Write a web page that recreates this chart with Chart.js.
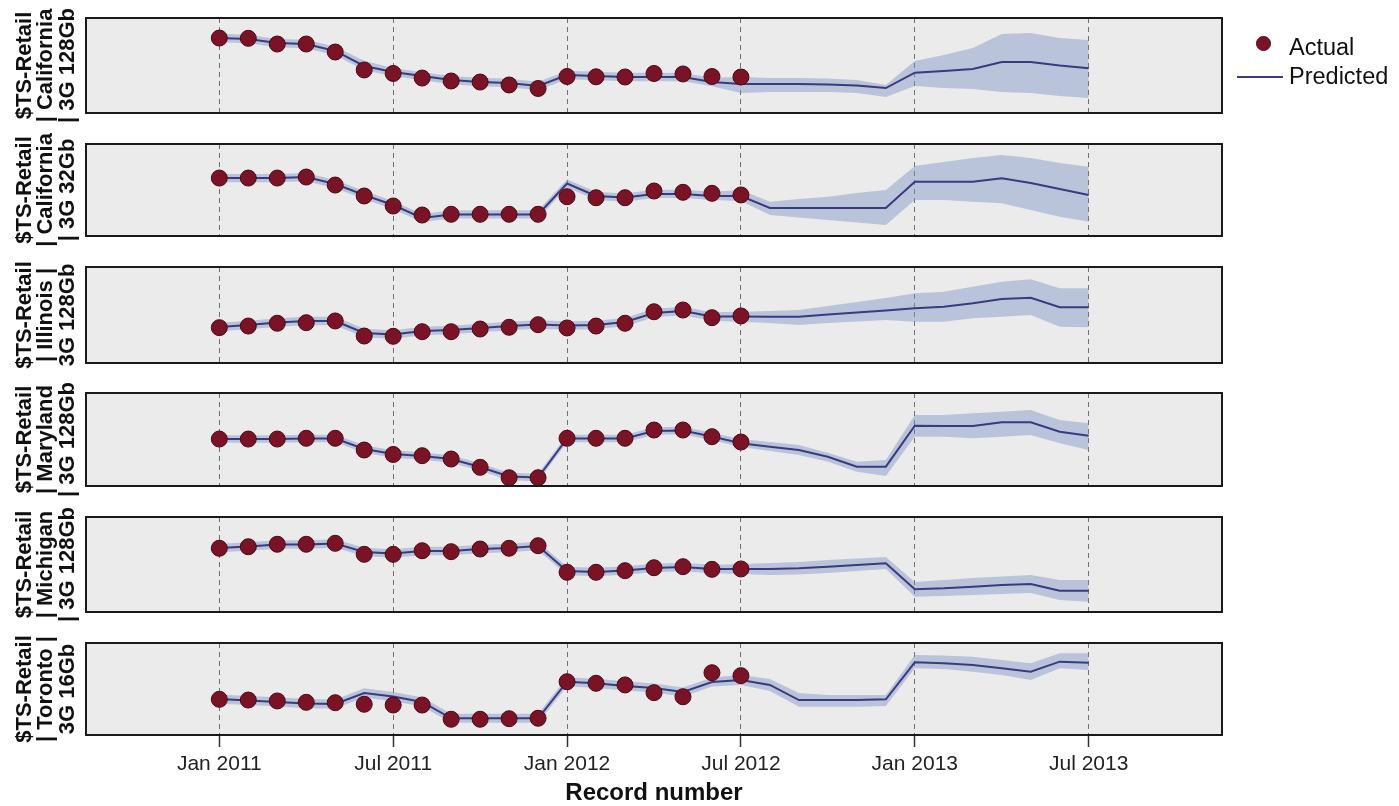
<!DOCTYPE html>
<html>
<head>
<meta charset="utf-8">
<script src="https://cdn.jsdelivr.net/npm/chart.js@4.4.1/dist/chart.umd.min.js"></script>
<style>
html,body{margin:0;padding:0;background:#fff;width:1399px;height:806px;overflow:hidden;}
.panel{position:absolute;left:0;width:1399px;}
.lg{position:absolute;font-family:"Liberation Sans",Arial,sans-serif;font-size:23.5px;line-height:24px;color:#111;white-space:nowrap;}
</style>
</head>
<body>
<div id="p0" class="panel"><canvas></canvas></div>
<div id="p1" class="panel"><canvas></canvas></div>
<div id="p2" class="panel"><canvas></canvas></div>
<div id="p3" class="panel"><canvas></canvas></div>
<div id="p4" class="panel"><canvas></canvas></div>
<div id="p5" class="panel"><canvas></canvas></div>
<div style="position:absolute;left:1256px;top:36px;width:15px;height:15px;border-radius:50%;background:#7b1327;box-sizing:border-box;border:1px solid #4a0a15;"></div>
<div class="lg" style="left:1289px;top:35px;">Actual</div>
<div style="position:absolute;left:1237px;top:76px;width:46px;height:2px;background:#3a3a80;"></div>
<div class="lg" style="left:1289px;top:64px;">Predicted</div>
<script>
// ---------- data ----------
const months = ['2011-01','2011-02','2011-03','2011-04','2011-05','2011-06','2011-07','2011-08','2011-09','2011-10','2011-11','2011-12',
                '2012-01','2012-02','2012-03','2012-04','2012-05','2012-06','2012-07','2012-08','2012-09','2012-10','2012-11','2012-12',
                '2013-01','2013-02','2013-03','2013-04','2013-05','2013-06','2013-07'];
const tickMonths = ['2011-01','2011-07','2012-01','2012-07','2013-01','2013-07'];
const tickLabels = ['Jan 2011','Jul 2011','Jan 2012','Jul 2012','Jan 2013','Jul 2013'];
const seriesTitles = [
  ['$TS-Retail','| California','| 3G 128Gb'],
  ['$TS-Retail','| California','| 3G 32Gb'],
  ['$TS-Retail','| Illinois |','3G 128Gb'],
  ['$TS-Retail','| Maryland','| 3G 128Gb'],
  ['$TS-Retail','| Michigan','| 3G 128Gb'],
  ['$TS-Retail','| Toronto |','3G 16Gb']
];

// California 128Gb
const actualCA128 = [78.9,78.6,72.6,72.6,64.2,45.3,41.6,36.8,33.7,32.6,29.5,25.8,38.4,38.1,37.9,41.6,41.1,38.4,37.9];
const predCA128   = [78.9,77.9,73.7,72.6,65.3,49.5,43.2,38.9,34.7,32.6,31.6,28.4,40.0,38.9,37.9,37.9,37.9,32.6,30.5,30.5,30.5,30.0,28.9,26.3,42.4,44.2,46.3,53.7,53.7,50.0,47.1];
const upperCA128  = [83.4,82.5,78.0,77.0,70.0,55.0,47.5,43.0,39.0,37.0,36.0,33.0,44.5,43.5,42.5,42.5,42.0,37.0,37.9,36.8,36.8,36.3,34.7,29.5,54.7,61.1,68.4,83.2,84.2,78.9,76.8];
const lowerCA128  = [74.4,73.4,69.2,68.1,60.8,45.0,38.7,34.4,30.2,28.1,27.1,23.9,35.5,34.4,33.4,33.4,33.4,28.1,21.1,22.1,22.1,22.1,21.1,16.8,28.4,26.3,25.3,22.1,21.1,17.9,15.8];

// California 32Gb
const actualCA32 = [63.0,63.0,63.0,64.1,55.4,43.5,32.6,22.8,23.6,23.6,23.6,23.6,42.7,41.6,41.6,48.9,47.5,46.4,44.6];
const predCA32   = [63.0,63.0,63.0,64.1,56.5,44.6,33.7,19.6,23.4,23.4,23.4,23.4,57.1,43.5,41.8,45.7,45.7,43.5,43.5,30.4,30.4,30.4,30.4,30.4,59.0,59.0,59.0,62.7,57.6,51.1,44.6];
const upperCA32  = [67.5,67.5,67.5,68.6,61.0,49.0,38.0,24.0,28.0,28.0,28.0,28.0,61.5,48.0,46.3,50.2,50.2,48.0,50.0,37.3,40.2,42.7,46.7,50.0,76.1,80.4,84.8,88.0,84.8,79.3,75.3];
const lowerCA32  = [58.5,58.5,58.5,59.6,52.0,40.1,29.2,15.1,18.9,18.9,18.9,18.9,52.6,39.0,37.3,41.2,41.2,39.0,38.0,22.8,20.1,17.4,14.7,12.0,39.1,39.1,37.3,35.5,28.3,21.0,15.5];

// Illinois 128Gb
const actualIL128 = [36.8,38.5,41.4,42.0,43.8,28.1,27.8,32.6,32.6,35.4,37.2,39.9,36.5,38.5,41.4,53.4,55.2,47.2,49.0];
const predIL128   = [37.5,39.6,42.2,43.8,43.8,31.3,29.7,33.3,34.4,36.5,38.5,40.1,39.1,39.6,42.7,52.1,54.2,48.4,48.4,48.2,48.2,50.5,52.6,54.7,57.0,58.6,62.2,66.7,68.0,58.0,58.0];
const upperIL128  = [42.0,44.1,46.7,48.3,48.3,35.8,34.2,37.8,38.9,41.0,43.0,44.6,43.6,44.1,47.2,56.6,58.7,52.9,53.4,54.2,55.2,59.4,63.5,67.7,72.6,74.3,79.5,84.7,87.2,77.8,77.8];
const lowerIL128  = [33.0,35.1,37.7,39.3,39.3,26.8,25.2,28.8,29.9,32.0,34.0,35.6,34.6,35.1,38.2,47.6,49.7,43.9,43.0,41.7,39.6,41.7,43.2,44.8,43.0,43.0,46.6,48.2,50.0,37.8,37.2];

// Maryland 128Gb
const actualMD128 = [50.5,50.5,50.5,51.3,51.3,38.7,33.9,32.6,29.0,20.1,8.9,8.9,51.3,51.3,51.3,60.2,60.2,53.0,47.3];
const predMD128   = [50.5,50.5,50.5,51.1,51.1,39.8,34.4,32.3,29.0,20.4,10.2,9.1,51.1,51.1,51.1,59.1,59.7,53.2,45.9,42.3,38.7,31.5,20.8,20.8,64.8,64.5,64.5,68.5,68.5,58.4,54.1];
const upperMD128  = [54.5,54.5,54.5,55.1,55.1,43.8,38.4,36.3,33.0,24.4,14.2,13.1,55.1,55.1,55.1,63.1,63.7,57.2,50.5,47.3,44.1,35.8,26.1,28.0,76.3,76.3,78.2,79.9,81.7,71.0,67.4];
const lowerMD128  = [46.5,46.5,46.5,47.1,47.1,35.8,30.4,28.3,25.0,16.4,6.2,5.1,47.1,47.1,47.1,55.1,55.7,49.2,41.9,37.6,33.3,26.1,15.4,10.8,53.0,53.0,51.3,53.0,54.8,45.9,38.7];

// Michigan 128Gb
const actualMI128 = [67.1,68.7,71.3,71.3,72.3,60.7,60.7,64.5,63.5,66.3,67.1,69.8,41.8,41.8,43.5,46.6,47.7,44.9,45.3];
const predMI128   = [67.4,68.9,71.1,71.1,72.1,63.2,61.6,64.2,64.2,66.3,67.4,69.5,43.2,42.1,43.7,46.3,47.4,45.3,45.3,45.3,46.0,47.7,49.5,51.3,23.9,24.9,26.6,28.4,29.5,22.4,22.4];
const upperMI128  = [71.9,73.4,75.6,75.6,76.6,67.7,66.1,68.7,68.7,70.8,71.9,74.0,47.7,46.6,48.2,50.8,51.9,49.8,50.5,51.6,52.6,54.7,56.3,57.9,31.6,33.7,35.8,37.4,38.9,33.7,33.7];
const lowerMI128  = [62.9,64.4,66.6,66.6,67.6,58.7,57.1,59.7,59.7,61.8,62.9,65.0,38.7,37.6,39.2,41.8,42.9,40.8,40.0,38.9,39.5,41.1,43.2,45.3,16.1,16.8,17.9,18.9,20.0,12.6,10.8];

// Toronto 16Gb
const actualTO16 = [38.8,38.0,37.0,35.5,35.1,33.4,32.6,32.6,17.1,17.1,17.7,18.2,57.9,56.2,54.4,46.0,41.6,67.7,64.5];
const predTO16   = [39.1,37.5,35.9,34.2,33.7,45.7,41.8,35.9,18.2,18.2,18.2,18.2,57.9,56.2,53.3,51.1,46.7,57.6,59.8,54.4,38.0,38.0,38.0,38.8,79.0,77.9,76.1,72.5,68.8,79.7,78.6];
const upperTO16  = [44.1,42.5,40.9,39.2,38.7,50.7,46.8,40.9,23.2,23.2,23.2,23.2,62.9,61.2,58.3,56.1,51.7,62.6,65.2,60.9,45.7,43.5,43.5,43.5,87.0,86.4,85.1,81.5,77.9,88.8,88.8];
const lowerTO16  = [34.1,32.5,30.9,29.2,28.7,40.7,36.8,30.9,13.2,13.2,13.2,13.2,52.9,51.2,48.3,46.1,41.7,52.6,54.4,47.8,30.8,30.8,30.8,31.5,72.5,71.7,68.8,65.2,59.8,72.5,70.7];

const actualSeries = [actualCA128, actualCA32, actualIL128, actualMD128, actualMI128, actualTO16];
const predSeries   = [predCA128, predCA32, predIL128, predMD128, predMI128, predTO16];
const upperSeries  = [upperCA128, upperCA32, upperIL128, upperMD128, upperMI128, upperTO16];
const lowerSeries  = [lowerCA128, lowerCA32, lowerIL128, lowerMD128, lowerMI128, lowerTO16];

// ---------- layout & style ----------
const panelTop = [18, 144, 267, 393, 517, 643];
const panelH   = [95, 92, 96, 93, 95, 92];
const PAD = 16;
const FONT = '"Liberation Sans", Arial, sans-serif';
Chart.defaults.font.family = FONT;

function monthIndex(s){ const p = s.split('-').map(Number); return (p[0]-2011)*12 + (p[1]-1); }
const xs = months.map(monthIndex);
const tickXs = tickMonths.map(monthIndex);

const framePlugin = {
  id: 'frame',
  beforeDraw(chart){
    const a = chart.chartArea, c = chart.ctx;
    c.save(); c.fillStyle = '#ebebeb'; c.fillRect(a.left, a.top, a.right-a.left, a.bottom-a.top); c.restore();
  },
  afterDraw(chart){
    const a = chart.chartArea, c = chart.ctx;
    c.save(); c.strokeStyle = '#1a1a1a'; c.lineWidth = 2;
    c.strokeRect(a.left, a.top, a.right-a.left, a.bottom-a.top); c.restore();
  }
};

for (let i = 0; i < 6; i++) {
  const isLast = i === 5;
  const div = document.getElementById('p'+i);
  div.style.top = (panelTop[i]-PAD) + 'px';
  div.style.height = (panelH[i] + PAD + (isLast ? 71 : PAD)) + 'px';
  const pts = arr => arr.map((v,k) => ({x: xs[k], y: v}));
  new Chart(div.querySelector('canvas'), {
    type: 'line',
    data: { datasets: [
      { label:'Actual', data: pts(actualSeries[i]), showLine:false, pointRadius:8, pointHoverRadius:8,
        pointBackgroundColor:'#7b1327', pointBorderColor:'#4a0a15', pointBorderWidth:1, order:0 },
      { label:'Predicted', data: pts(predSeries[i]), borderColor:'#3a3a80', borderWidth:2, pointRadius:0, tension:0, fill:false, order:1 },
      { label:'Upper', data: pts(upperSeries[i]), borderWidth:0, borderColor:'rgba(0,0,0,0)', pointRadius:0, tension:0,
        fill:'+1', backgroundColor:'rgba(125,148,200,0.45)', order:2 },
      { label:'Lower', data: pts(lowerSeries[i]), borderWidth:0, borderColor:'rgba(0,0,0,0)', pointRadius:0, tension:0, fill:false, order:3 }
    ]},
    options: {
      responsive:true, maintainAspectRatio:false, animation:false, events:[],
      layout:{ autoPadding:false, padding:{ left:0, right:1399-1222, top:PAD, bottom: isLast ? 0 : PAD } },
      plugins:{ legend:{display:false}, tooltip:{enabled:false} },
      scales:{
        x:{
          type:'linear', min:-4.6, max:34.6,
          afterBuildTicks: s => { s.ticks = tickXs.map(v => ({value:v})); },
          afterFit: s => { s.height = isLast ? 71 : 0; },
          ticks:{ display:isLast, autoSkip:false, maxRotation:0, padding:5, color:'#222',
                  font:{family:FONT, size:21},
                  callback: v => tickLabels[tickXs.indexOf(v)] },
          grid:{ display:true, color:'#707070', lineWidth:1, drawTicks:isLast, tickLength:12,
                 tickColor:'#333', tickWidth:1.5, tickBorderDash:[] },
          border:{ display:false, dash:[5,4] },
          title:{ display:isLast, text:'Record number', color:'#111', padding:{top:0, bottom:-2},
                  font:{family:FONT, size:24, weight:'bold', lineHeight:1.2} }
        },
        y:{
          min:0, max:100,
          afterFit: s => { s.width = 86; },
          ticks:{ display:false }, grid:{ display:false }, border:{ display:false },
          title:{ display:true, text: seriesTitles[i], color:'#111', padding:{top:13.75, bottom:0},
                  font:{family:FONT, size:22, weight:'bold', lineHeight:'21.5px'} }
        }
      }
    },
    plugins:[framePlugin]
  });
}
</script>
</body>
</html>
